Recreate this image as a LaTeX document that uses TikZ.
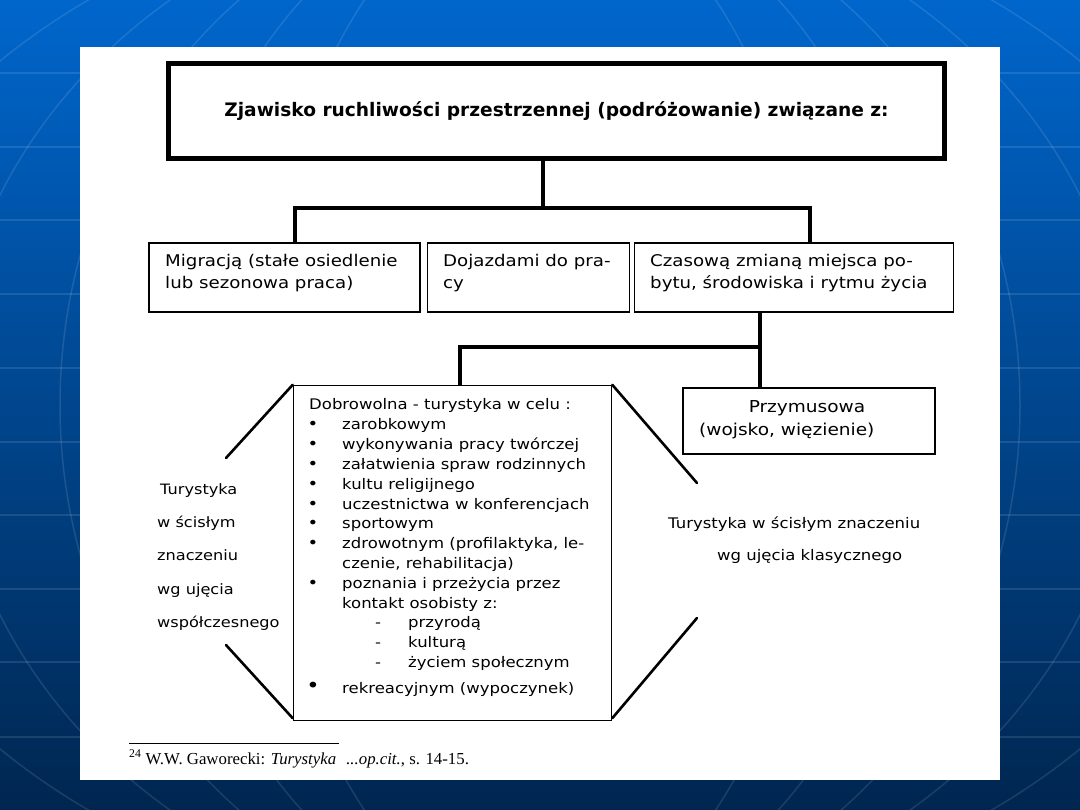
\documentclass[tikz,border=0pt]{standalone}
\usepackage{fontspec}
\setmainfont{DejaVu Sans}[FakeStretch=1.13]
\newfontfamily\titlefont{DejaVu Sans}
\newfontfamily\fnfont{Liberation Serif}
\definecolor{bgtop}{RGB}{0,102,204}
\definecolor{bgmid}{RGB}{0,72,150}
\definecolor{bgbot}{RGB}{0,38,80}
\tikzset{
  gridline/.style={draw=white, opacity=0.11, line width=1.5},
  conn/.style={draw=black, line width=4},
  diag/.style={draw=black, line width=2.6, line cap=round},
  midbox/.style={draw=black, line width=1.6, inner sep=0, minimum height=69},
  midtxt/.style={font=\fontsize{16.1}{22}\selectfont, inner sep=0, anchor=base west},
  bigtxt/.style={font=\fontsize{14.6}{19.8}\selectfont, inner sep=0, anchor=base west},
  sidetxt/.style={font=\fontsize{14.3}{19}\selectfont, inner sep=0, anchor=base west},
}
\begin{document}
\begin{tikzpicture}[x=1pt,y=-1pt]
\useasboundingbox (0,0) rectangle (1080,810);
% background
\shade[top color=bgtop, middle color=bgmid, bottom color=bgbot] (0,0) rectangle (1080,810);
\foreach \gy in {73,147,220,294,368,442,515,589,662,737}
  \draw[gridline] (0,\gy) -- (1080,\gy);
\foreach \rx in {280,380,480,590,720,880}
  \draw[gridline] (540,405) ellipse [x radius=\rx, y radius=520];
% white sheet
\fill[white] (80,47) rectangle (1000,780);
% title
\node[draw, line width=5, minimum width=776, minimum height=95, inner sep=0] (title) at (556.5,111)
  {\titlefont\bfseries\fontsize{18.6}{22}\selectfont Zjawisko ruchliwości przestrzennej (podróżowanie) związane z:};
% middle row boxes
\node[midbox, minimum width=271] (box1) at (284.5,277.5) {};
\node[midbox, minimum width=202] (box2) at (528.5,277.5) {};
\node[midbox, minimum width=319] (box3) at (794,277.5) {};
\node[midtxt] (m1a) at (165,267) {Migracją (stałe osiedlenie};
\node[midtxt] (m1b) at (165,289) {lub sezonowa praca)};
\node[midtxt] (m2a) at (443,267) {Dojazdami do pra-};
\node[midtxt] (m2b) at (443,289) {cy};
\node[midtxt] (m3a) at (650,267) {Czasową zmianą miejsca po-};
\node[midtxt] (m3b) at (650,289) {bytu, środowiska i rytmu życia};
% connectors top
\coordinate (j1) at (543,208);
\coordinate (jl) at (295,208);
\coordinate (jr) at (810,208);
\draw[conn] (j1 |- title.south) -- (j1);
\draw[conn] (jl |- box1.north) -- (jl) -- (jr) -- (jr |- box3.north);
% lower boxes
\node[draw, line width=1.5, minimum width=318, minimum height=335, inner sep=0] (big) at (452.5,553) {};
\node[draw, line width=2, minimum width=252, minimum height=66, inner sep=0] (przym) at (809,421) {};
\node[font=\fontsize{16.4}{22}\selectfont, inner sep=0, anchor=base] (p1) at (807,413) {Przymusowa};
\node[font=\fontsize{16.4}{22}\selectfont, inner sep=0, anchor=base west] (p2) at (699,436) {(wojsko, więzienie)};
% lower connectors
\coordinate (k1) at (760,347);
\coordinate (k2) at (460,347);
\draw[conn, line width=3.6] (k1 |- box3.south) -- (k1 |- przym.north);
\draw[conn, line width=3.6] (k1) -- (k2) -- (k2 |- big.north);
% big box content
\node[bigtxt] (d0) at (309,410) {Dobrowolna - turystyka w celu :};
\foreach \yy/\itemtext [count=\i] in {429.8/zarobkowym, 449.6/wykonywania pracy twórczej, 469.4/załatwienia spraw rodzinnych, 489.2/kultu religijnego, 509/uczestnictwa w konferencjach, 528.8/sportowym, 548.6/{zdrowotnym (profilaktyka, le-}, 588.2/poznania i przeżycia przez}
{
  \node[bigtxt] (it\i) at (342,\yy) {\itemtext};
  \node[bigtxt, anchor=base, font=\fontsize{16}{19.8}\selectfont] (bu\i) at (313,\yy) {\textbullet};
}
\node[bigtxt] (c1) at (342,568.4) {czenie, rehabilitacja)};
\node[bigtxt] (c2) at (342,608) {kontakt osobisty z:};
\foreach \yy/\itemtext [count=\i] in {627.8/przyrodą, 647.6/kulturą, 667.4/życiem społecznym}
{
  \node[bigtxt] (ds\i) at (408,\yy) {\itemtext};
  \node[bigtxt, anchor=base] (dm\i) at (378,\yy) {-};
}
\node[bigtxt] (last) at (342,693) {rekreacyjnym (wypoczynek)};
\node[bigtxt, anchor=base, font=\fontsize{20}{20}\selectfont] (lastbu) at (313,692) {\textbullet};
% diagonals
\coordinate (dl1) at (226,458);
\coordinate (dl2) at (226,645);
\coordinate (dr1) at (697,483);
\coordinate (dr2) at (697,618);
\draw[diag] (big.north west) -- (dl1);
\draw[diag] (dl2) -- ([yshift=3]big.south west);
\draw[diag] (big.north east) -- (dr1);
\draw[diag] (dr2) -- ([yshift=3]big.south east);
% side labels
\node[sidetxt] (s1) at (160,494) {Turystyka};
\node[sidetxt] (s2) at (157,527) {w ścisłym};
\node[sidetxt] (s3) at (157,560) {znaczeniu};
\node[sidetxt] (s4) at (157,594) {wg ujęcia};
\node[sidetxt] (s5) at (157,627) {współczesnego};
\node[sidetxt, font=\fontsize{14.6}{19}\selectfont] (r1) at (668,528) {Turystyka w ścisłym znaczeniu};
\node[sidetxt, font=\fontsize{14.6}{19}\selectfont] (r2) at (717,560) {wg ujęcia klasycznego};
% footnote
\coordinate (fa) at (129,743);
\coordinate (fb) at (339,743);
\draw[line width=1] (fa) -- (fb);
\node[inner sep=0, anchor=base west, font=\fnfont\fontsize{16.8}{17}\selectfont] (fn) at (129,764)
  {\textsuperscript{24} W.W. Gaworecki: \textit{Turystyka}\hspace{0.6em}\textit{...op.cit.}, s. 14-15.};
\end{tikzpicture}
\end{document}
